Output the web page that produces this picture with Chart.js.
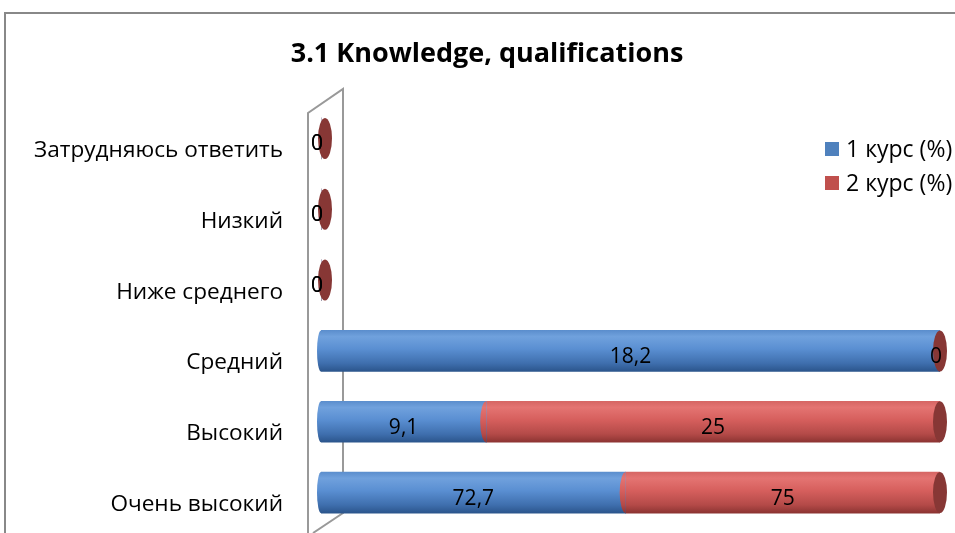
<!DOCTYPE html>
<html>
<head>
<meta charset="utf-8">
<title>3.1 Knowledge, qualifications</title>
<script src="https://cdn.jsdelivr.net/npm/chart.js@4.4.1/dist/chart.umd.min.js"></script>
<style>
    html, body { margin: 0; padding: 0; background: #fff; overflow: hidden; }
    #wrap { position: relative; width: 955px; height: 533px; }
</style>
</head>
<body>
<div id="wrap"><canvas id="knowledgeChart"></canvas></div>
<script>
// data (100% stacked, labels show the raw values)
const categories = ['Затрудняюсь ответить', 'Низкий', 'Ниже среднего', 'Средний', 'Высокий', 'Очень высокий'];
const course1 = [0, 0, 0, 18.2, 9.1, 72.7];
const course2 = [0, 0, 0, 0, 25, 75];
const seriesNames = ['1 курс (%)', '2 курс (%)'];
const chartTitle = '3.1 Knowledge, qualifications';

const FONT = "'Open Sans', 'Noto Sans', sans-serif";
const BAR_H = 41;

// shares for the 100% stack
const totals = categories.map((_, i) => course1[i] + course2[i]);
const share = arr => arr.map((v, i) => totals[i] ? v / totals[i] * 100 : 0);

const palette = [
    { stops: ['#5b8ecd', '#70a1dd', '#5a8fd2', '#3f6fae', '#2b558c'], cap: '#3d6aa3', legend: '#4f81bd' },
    { stops: ['#d66664', '#e47472', '#d65f5d', '#b44a48', '#8c3432'], cap: '#873735', legend: '#c0504d' }
];
const stopPos = [0, 0.15, 0.45, 0.8, 1];

function cylinderFill(chart, dsIndex, row) {
    const yScale = chart.scales.y;
    const yc = yScale ? yScale.getPixelForValue(row) : NaN;
    if (!isFinite(yc)) return palette[dsIndex].legend;
    const g = chart.ctx.createLinearGradient(0, yc - BAR_H / 2, 0, yc + BAR_H / 2);
    palette[dsIndex].stops.forEach((c, k) => g.addColorStop(stopPos[k], c));
    return g;
}

// outer frame and the 3D side wall
const framePlugin = {
    id: 'frame',
    beforeDraw(chart) {
        const ctx = chart.ctx;
        ctx.save();
        ctx.strokeStyle = '#888';
        ctx.lineWidth = 2;
        ctx.beginPath();
        ctx.moveTo(5, chart.height);
        ctx.lineTo(5, 13);
        ctx.lineTo(chart.width, 13);
        ctx.stroke();
        ctx.restore();
    },
    beforeDatasetsDraw(chart) {
        const a = chart.chartArea, ctx = chart.ctx;
        ctx.save();
        ctx.strokeStyle = '#999';
        ctx.lineWidth = 2;
        ctx.beginPath();
        ctx.moveTo(a.left - 13, chart.height);
        ctx.lineTo(a.left - 13, a.top + 10);
        ctx.lineTo(a.left + 22, a.top - 14);
        ctx.lineTo(a.left + 22, a.bottom - 15);
        ctx.lineTo(a.left - 8, chart.height);
        ctx.stroke();
        ctx.restore();
    }
};

// rounded ends, end caps and value labels
const cylinderPlugin = {
    id: 'cylinders',
    afterDatasetsDraw(chart) {
        const ctx = chart.ctx;
        const metas = chart.data.datasets.map((_, d) => chart.getDatasetMeta(d));
        const raw = [course1, course2];
        ctx.save();
        categories.forEach((_, i) => {
            // left ends (convex to the left)
            metas.forEach((meta, d) => {
                const el = meta.data[i];
                if (Math.abs(el.x - el.base) < 0.5) return;
                const left = Math.min(el.x, el.base);
                const rx = d === 0 ? 4 : 6;
                ctx.fillStyle = cylinderFill(chart, d, i);
                ctx.beginPath();
                ctx.ellipse(left, el.y, rx, BAR_H / 2, 0, Math.PI / 2, Math.PI * 3 / 2);
                ctx.fill();
            });
            // cap at the far end, coloured by the last series
            const last = metas.length - 1;
            const endEl = metas[last].data[i];
            const empty = totals[i] === 0;
            ctx.fillStyle = palette[last].cap;
            ctx.beginPath();
            ctx.ellipse(Math.max(endEl.x, endEl.base) + (empty ? 4 : 0), endEl.y, 7, BAR_H / 2, 0, 0, Math.PI * 2);
            ctx.fill();
        });
        ctx.fillStyle = '#000';
        ctx.font = '21px ' + FONT;
        ctx.textAlign = 'center';
        ctx.textBaseline = 'middle';
        metas.forEach((meta, d) => {
            meta.data.forEach((el, i) => {
                const v = raw[d][i];
                const zero = Math.abs(el.x - el.base) < 0.5;
                const x = zero ? el.x - 4 : (el.x + el.base) / 2;
                ctx.fillText(String(v).replace('.', ','), x, el.y + 6);
            });
        });
        ctx.restore();
    },
    afterDraw(chart) {
        // legend in the top right corner
        const ctx = chart.ctx;
        const x = chart.width - 130;
        ctx.save();
        ctx.font = '23px ' + FONT;
        ctx.textBaseline = 'middle';
        seriesNames.forEach((name, d) => {
            const y = 149 + d * 34;
            ctx.fillStyle = palette[d].legend;
            ctx.fillRect(x, y - 7, 14, 14);
            ctx.fillStyle = '#000';
            ctx.fillText(name, x + 21, y + 1);
        });
        ctx.restore();
    }
};

const ctx = document.getElementById('knowledgeChart').getContext('2d');
const chart = new Chart(ctx, {
    type: 'bar',
    data: {
        labels: categories,
        datasets: [
            { label: seriesNames[0], data: share(course1), backgroundColor: c => cylinderFill(c.chart, 0, c.dataIndex) },
            { label: seriesNames[1], data: share(course2), backgroundColor: c => cylinderFill(c.chart, 1, c.dataIndex) }
        ]
    },
    options: {
        indexAxis: 'y',
        responsive: true,
        maintainAspectRatio: false,
        animation: false,
        layout: { padding: { left: 34, right: 15, top: 0, bottom: 5 } },
        datasets: { bar: { barThickness: BAR_H, borderWidth: 0 } },
        scales: {
            x: { stacked: true, min: 0, max: 100, display: false },
            y: {
                stacked: true,
                grid: { display: false },
                border: { display: false },
                ticks: { color: '#000', font: { family: FONT, size: 22.6 }, padding: 30, labelOffset: 12 },
                afterFit: scale => {
                    scale.width = 287;
                    scale.paddingTop = 0;
                    scale.paddingBottom = 0;
                }
            }
        },
        plugins: {
            legend: { display: false },
            tooltip: { enabled: false },
            title: {
                display: true,
                text: chartTitle,
                color: '#000',
                font: { family: FONT, size: 27, weight: 'bold', lineHeight: 1.2 },
                padding: { top: 38, bottom: 32.6 }
            }
        }
    },
    plugins: [framePlugin, cylinderPlugin]
});
</script>
</body>
</html>
